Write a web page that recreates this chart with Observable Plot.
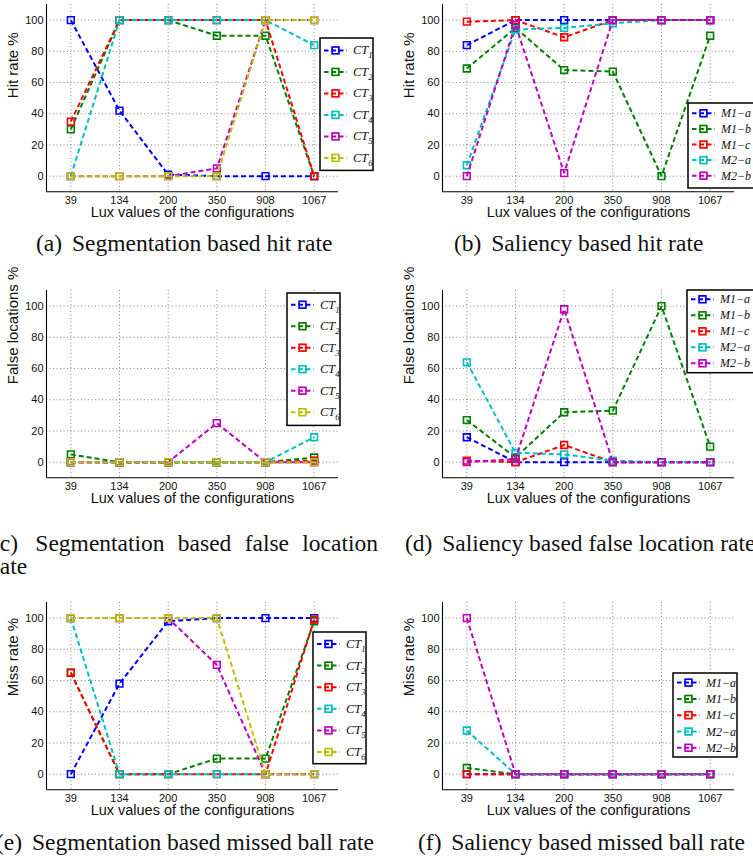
<!DOCTYPE html>
<html><head><meta charset="utf-8">
<script src="https://cdn.jsdelivr.net/npm/d3@7"></script>
<script src="https://cdn.jsdelivr.net/npm/@observablehq/plot@0.6"></script>
<style>
html,body{margin:0;padding:0;background:#fff;}
#root{position:relative;width:753px;height:859px;overflow:hidden;background:#fff;}
.panel{position:absolute;}
.panel svg{max-width:none !important;overflow:visible;}
.cap{position:absolute;font-family:"Liberation Serif","Times New Roman",serif;font-size:23.5px;line-height:23px;color:#111;}
.cap .lab{margin-right:0.17em;}
.leg{position:absolute;overflow:visible;}
</style></head><body><div id="root"></div>
<script>
// ---- data ----
const lux = ["39", "134", "200", "350", "908", "1067"];
const ctSubs = ["1", "2", "3", "4", "5", "6"];
const mLabels = ["M1\u2212a", "M1\u2212b", "M1\u2212c", "M2\u2212a", "M2\u2212b"];
const ctColors = ["#0000ff", "#008000", "#ff0000", "#00bfbf", "#bf00bf", "#bfbf00"];
const mColors = ["#0000ff", "#008000", "#ff0000", "#00bfbf", "#bf00bf"];
const yTicks = [0, 20, 40, 60, 80, 100];

// (a) segmentation hit rate, CT1..CT6
const segHit = [
  [100, 42, 1, 0, 0, 0],
  [30, 100, 100, 90, 90, 0],
  [35, 100, 100, 100, 100, 0],
  [0, 100, 100, 100, 100, 84],
  [0, 0, 0, 5, 100, 100],
  [0, 0, 0, 0, 100, 100]
];
// (b) saliency hit rate, M1-a..M2-b
const salHit = [
  [84, 100, 100, 100, 100, 100],
  [69, 95, 68, 67, 0, 90],
  [99, 100, 89, 100, 100, 100],
  [7, 94, 95, 98, 100, 100],
  [0, 97, 2, 100, 100, 100]
];
// (c) segmentation false locations
const segFalse = [
  [0, 0, 0, 0, 0, 0],
  [5, 0, 0, 0, 0, 3],
  [0, 0, 0, 0, 0, 1],
  [0, 0, 0, 0, 0, 16],
  [0, 0, 0, 25, 0, 0],
  [0, 0, 0, 0, 0, 0]
];
// (d) saliency false locations
const salFalse = [
  [16, 0, 0, 0, 0, 0],
  [27, 3, 32, 33, 100, 10],
  [1, 0, 11, 0, 0, 0],
  [64, 6, 5, 1, 0, 0],
  [0, 2, 98, 0, 0, 0]
];
// (e) segmentation miss rate
const segMiss = [
  [0, 58, 98, 100, 100, 100],
  [65, 0, 0, 10, 10, 98],
  [65, 0, 0, 0, 0, 99],
  [100, 0, 0, 0, 0, 0],
  [100, 100, 100, 70, 0, 0],
  [100, 100, 100, 100, 0, 0]
];
// (f) saliency miss rate
const salMiss = [
  [0, 0, 0, 0, 0, 0],
  [4, 0, 0, 0, 0, 0],
  [0, 0, 0, 0, 0, 0],
  [28, 0, 0, 0, 0, 0],
  [100, 0, 0, 0, 0, 0]
];

const xLabel = "Lux values of the configurations";
const root = document.getElementById("root");

const ML = 46, MR = 20, MT = 6, MB = 44, FW = 292, FH = 187.3;

function panel(series, colors, ylabel, fx, fy) {
  const marks = [
    Plot.gridY(yTicks, {stroke: "#555", strokeOpacity: 0.9, strokeDasharray: "1,2.5", strokeWidth: 0.8}),
    Plot.gridX(d3.range(1, 7), {stroke: "#555", strokeOpacity: 0.9, strokeDasharray: "1,2.5", strokeWidth: 0.8}),
    Plot.ruleY([-10], {stroke: "#000", strokeWidth: 1.1}),
    Plot.ruleX([0.5], {stroke: "#000", strokeWidth: 1.1}),
    Plot.axisY(yTicks, {tickSize: 0, tickPadding: 3, fontSize: 11, label: null}),
    Plot.axisX(d3.range(1, 7), {tickSize: 0, tickPadding: 4, fontSize: 11, label: null, tickFormat: d => lux[d - 1]}),
    Plot.text([ylabel], {frameAnchor: "left", dx: -33, rotate: -90, fontSize: 15, text: d => d}),
    Plot.text([xLabel], {frameAnchor: "bottom", dy: 25, fontSize: 14.5, text: d => d})
  ];
  series.forEach((vals, i) => {
    const rows = vals.map((v, j) => ({x: j + 1, y: v}));
    marks.push(Plot.line(rows, {x: "x", y: "y", stroke: colors[i], strokeWidth: 2, strokeDasharray: "5,3", strokeLinecap: "butt", strokeLinejoin: "miter"}));
    marks.push(Plot.dot(rows, {x: "x", y: "y", symbol: "square", r: 3.8, stroke: colors[i], strokeWidth: 1.6, fill: "none"}));
  });
  const chart = Plot.plot({
    width: FW + ML + MR,
    height: FH + MT + MB,
    marginLeft: ML, marginRight: MR, marginTop: MT, marginBottom: MB,
    x: {type: "linear", domain: [0.5, 6.5]},
    y: {type: "linear", domain: [-10, 110]},
    style: {fontFamily: "'Liberation Sans', Arial, Helvetica, sans-serif", fontSize: "11px", color: "#111", background: "transparent", overflow: "visible"},
    marks
  });
  const div = document.createElement("div");
  div.className = "panel";
  div.style.left = (fx - ML) + "px";
  div.style.top = (fy - MT) + "px";
  div.style.width = (FW + ML + MR) + "px";
  div.appendChild(chart);
  root.appendChild(div);
}

function legend(labels, subs, colors, bx, by, bw, bh, first, step, fontSize) {
  const svg = d3.create("svg")
    .attr("class", "leg")
    .attr("width", bw + 2).attr("height", bh + 2)
    .style("left", (bx - 1) + "px").style("top", (by - 1) + "px");
  svg.append("rect").attr("x", 1).attr("y", 1).attr("width", bw).attr("height", bh)
    .attr("fill", "#fff").attr("stroke", "#000").attr("stroke-width", 1.5);
  labels.forEach((lab, i) => {
    const cy = 1 + first + i * step;
    const g = svg.append("g");
    g.append("line").attr("x1", 5).attr("x2", 28).attr("y1", cy).attr("y2", cy)
      .attr("stroke", colors[i]).attr("stroke-width", 2).attr("stroke-dasharray", "4.5,3");
    g.append("rect").attr("x", 16.5 - 3.4).attr("y", cy - 3.4).attr("width", 6.8).attr("height", 6.8)
      .attr("fill", "none").attr("stroke", colors[i]).attr("stroke-width", 1.7);
    const t = g.append("text").attr("x", 34).attr("y", cy + 4)
      .attr("font-family", "'Liberation Serif', 'Times New Roman', serif")
      .attr("font-style", "italic").attr("font-size", fontSize).attr("fill", "#111");
    t.append("tspan").text(lab);
    if (subs) t.append("tspan").attr("dy", 4).attr("font-size", fontSize * 0.7).text(subs[i]);
  });
  root.appendChild(svg.node());
}

function caption(html, left, top, width) {
  const d = document.createElement("div");
  d.className = "cap";
  d.style.left = left + "px";
  d.style.top = top + "px";
  if (width) { d.style.width = width + "px"; d.style.textAlign = "justify"; d.style.textAlignLast = "left"; }
  else d.style.whiteSpace = "nowrap";
  d.innerHTML = html;
  root.appendChild(d);
}

panel(segHit, ctColors, "Hit rate %", 46, 3.7);
panel(salHit, mColors, "Hit rate %", 442, 3.7);
panel(segFalse, ctColors, "False locations %", 46, 290.4);
panel(salFalse, mColors, "False locations %", 442, 290.4);
panel(segMiss, ctColors, "Miss rate %", 46, 601.7);
panel(salMiss, mColors, "Miss rate %", 442, 601.7);

const ctLab = ctSubs.map(() => "CT");
legend(ctLab, ctSubs, ctColors, 320, 38.3, 53, 132.4, 12.4, 21.5, 12.5);
legend(mLabels, null, mColors, 688.3, 103, 68, 85, 10.3, 15.6, 12);
legend(ctLab, ctSubs, ctColors, 286.7, 293.3, 53, 132.4, 11.7, 21.5, 12.5);
legend(mLabels, null, mColors, 686.7, 290, 68, 82.7, 9.3, 16, 12);
legend(ctLab, ctSubs, ctColors, 312.7, 632.3, 53, 131.7, 12, 21.6, 12.5);
legend(mLabels, null, mColors, 672.7, 672.7, 64, 84, 9.6, 16.3, 12);

caption('<span class="lab">(a)</span> Segmentation based hit rate', 36, 231.5);
caption('<span class="lab">(b)</span> Saliency based hit rate', 454, 231.5);
caption('<span class="lab">(c)</span> Segmentation based false location rate', -8, 531.5, 386);
caption('<span class="lab">(d)</span> Saliency based false location rate', 405, 531.5);
caption('<span class="lab">(e)</span> Segmentation based missed ball rate', -4, 830.5);
caption('<span class="lab">(f)</span> Saliency based missed ball rate', 418, 830.5);
</script></body></html>
